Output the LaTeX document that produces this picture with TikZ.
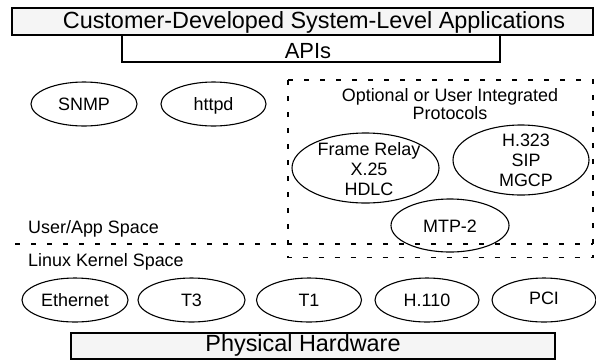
\documentclass[tikz,border=0pt]{standalone}
\usepackage{fontspec}
\setmainfont{Liberation Sans}
\usetikzlibrary{shapes.geometric}
\definecolor{panelfill}{RGB}{245,245,245}
\begin{document}
\begin{tikzpicture}[x=1bp,y=-1bp,
  bigtxt/.style={font=\fontsize{23.5}{26}\selectfont, inner sep=0, anchor=base},
  smalltxt/.style={font=\fontsize{18}{20}\selectfont, inner sep=0},
  panel/.style={draw, line width=1.8bp, fill=panelfill, inner sep=0},
  oval/.style={draw, ellipse, line width=1.1bp, inner sep=0,
    minimum width=106bp, minimum height=44bp,
    font=\fontsize{18}{20}\selectfont, text height=13bp, text depth=0bp},
  multitxt/.style={font=\fontsize{18}{20}\selectfont, align=center, inner sep=0},
  zone/.style={draw, line width=1.8bp, dash pattern=on 5bp off 11bp},
]
\useasboundingbox (0,0) rectangle (596,360);

% top boxes
\node[panel, minimum width=581bp, minimum height=27bp] (apps) at (302.5,21.5) {};
\node[bigtxt] (appstxt) at (314,28.5) {Customer-Developed System-Level Applications};
\node[panel, fill=white, minimum width=378bp, minimum height=27bp] (apis) at (311,48.5) {};
\node[bigtxt, font=\fontsize{22}{24}\selectfont] (apistxt) at (308,58) {APIs};

% user space daemons
\node[oval] (snmp) at (84,104) {SNMP};
\node[oval, minimum width=105bp] (httpd) at (213.5,104) {httpd};

% optional protocols zone
\coordinate (zoneNW) at (288,80);
\coordinate (zoneSE) at (593,257.5);
\path[zone] (zoneNW) rectangle (zoneSE);
\node[multitxt, font=\fontsize{18}{15}\selectfont] (opttxt) at (450,104) {Optional or User Integrated\\Protocols};

\node[draw, ellipse, line width=1.1bp, inner sep=0, minimum width=147bp, minimum height=70bp] (fr) at (365.5,168) {};
\node[multitxt] (frtxt) at (369,169) {Frame Relay\\X.25\\HDLC};
\node[draw, ellipse, line width=1.1bp, inner sep=0, minimum width=136bp, minimum height=70bp] (h323) at (521,160) {};
\node[multitxt] (h323txt) at (526,160) {H.323\\SIP\\MGCP};
\node[oval, minimum width=118bp, minimum height=53bp] (mtp) at (450,225.5) {MTP-2};

% user / kernel divider
\coordinate (divL) at (15,244);
\coordinate (divR) at (593,244);
\draw[zone] (divL) -- (divR);
\node[smalltxt, anchor=base west] (usertxt) at (28,233) {User/App Space};
\node[smalltxt, anchor=base west] (kerneltxt) at (28,266) {Linux Kernel Space};

% kernel drivers
\node[oval] (eth) at (75,300) {Ethernet};
\node[oval, minimum width=107bp] (t3) at (191.5,300) {T3};
\node[oval, minimum width=105bp] (t1) at (309,300) {T1};
\node[oval, minimum width=104bp] (h110) at (427,300) {H.110};
\node[oval, minimum width=104bp] (pci) at (544,300) {\raisebox{2.5bp}{PCI}};

% hardware
\node[panel, minimum width=484bp, minimum height=26bp] (hw) at (313,346) {};
\node[bigtxt] (hwtxt) at (303,351) {Physical Hardware};
\end{tikzpicture}
\end{document}
